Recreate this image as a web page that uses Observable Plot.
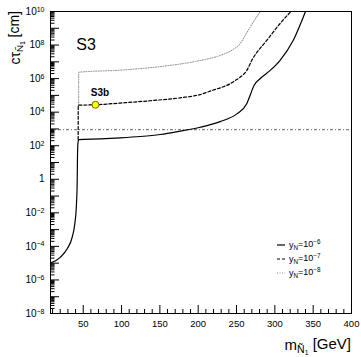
<!DOCTYPE html>
<html><head><meta charset="utf-8">
<script src="https://cdn.jsdelivr.net/npm/d3@7"></script>
<script src="https://cdn.jsdelivr.net/npm/@observablehq/plot@0.6"></script>
<style>
body{margin:0;background:#fff;}
#chart{position:relative;width:361px;height:357px;}
#chart svg{font-family:"Liberation Sans",Arial,Helvetica,sans-serif;}
</style></head><body><div id="chart"></div>
<script>
// ---- data ----
const xDomain = [7.3, 400];
const yDomain = [1e-8, 1e10];
const xMajorTicks = [50, 100, 150, 200, 250, 300, 350, 400];
const yLabelExps = [10, 8, 6, 4, 2, 0, -2, -4, -6, -8];

// y_N = 1e-6 (solid)
const solidMass = [7.3, 20.4, 29.1, 35.6, 39.0, 41.2, 42.1, 42.5, 43.2, 44.2, 72.5, 98.5, 124.5, 150.5, 176.5, 202.5, 228.6, 250.3, 263.3, 268.5, 272.8, 280.6, 293.6, 306.6, 323.9, 340];
const solidCtau = [1e-5, 2.3e-5, 7.2e-5, 3.5e-4, 2.2e-3, 3.5e-2, 0.54, 21, 160, 234, 257, 295, 355, 468, 741, 1.26e3, 2.75e3, 7.9e3, 3.2e4, 1.26e5, 3.9e5, 9.8e5, 3.0e6, 1.2e7, 1.86e8, 1e10];
// y_N = 1e-7 (dashed)
const dashedMass = [43.4, 43.5, 66, 98.5, 137.5, 176.5, 202.5, 219.9, 233, 241.6, 248, 254.6, 263.3, 269.8, 289.3, 306.6, 321];
const dashedCtau = [234, 2.6e4, 2.75e4, 3.5e4, 4.8e4, 7.2e4, 1.12e5, 2.1e5, 3.3e5, 4.9e5, 7.5e5, 1.2e6, 3.0e6, 1.2e7, 1.86e8, 1.86e9, 1e10];
// y_N = 1e-8 (dotted)
const dottedMass = [44, 44.1, 98.5, 150.5, 202.5, 228.6, 244, 254.6, 261, 267.6, 281];
const dottedCtau = [2.6e4, 2.4e6, 3.2e6, 5.2e6, 1.2e7, 2.4e7, 5.0e7, 1.2e8, 3.5e8, 1.15e9, 1e10];

const hLineCtau = 900;
const benchmarkLabel = ["S3b"];
const benchmarkMass = [66];
const benchmarkCtau = [2.75e4];
const panelLabel = ["S3"];
const panelMass = [41];
const panelCtau = [1e8];

const legendExps = ["-6", "-7", "-8"];
const legendDash = [null, "3,2", "1,1.5"];
const legendColor = ["#000", "#000", "#888"];

// ---- build ----
const zip = (xs, ys) => xs.map((m, i) => ({m, c: ys[i]}));
const solid = zip(solidMass, solidCtau);
const dashed = zip(dashedMass, dashedCtau);
const dotted = zip(dottedMass, dottedCtau);
const bench = benchmarkLabel.map((t, i) => ({t, m: benchmarkMass[i], c: benchmarkCtau[i]}));
const panel = panelLabel.map((t, i) => ({t, m: panelMass[i], c: panelCtau[i]}));

const yDecades = d3.range(-8, 11).map(e => Math.pow(10, e));
const yMinor = [];
for (let e = -8; e < 10; e++) for (let k = 2; k <= 9; k++) yMinor.push(k * Math.pow(10, e));
const yLabels = yLabelExps.map(e => Math.pow(10, e));
const xMinor = d3.range(10, 401, 10).filter(v => v % 50 !== 0);

const fmtY = v => { const e = Math.round(Math.log10(v)); return e === 0 ? "1" : "10^" + e; };

const svg = Plot.plot({
  width: 361, height: 357,
  marginTop: 11, marginLeft: 50, marginRight: 10, marginBottom: 44,
  style: {fontFamily: '"Liberation Sans",Arial,Helvetica,sans-serif', fontSize: "10px", background: "white", color: "black"},
  x: {domain: xDomain, label: null},
  y: {type: "log", domain: yDomain, label: null},
  marks: [
    Plot.ruleY([hLineCtau], {stroke: "#666", strokeWidth: 1, strokeDasharray: "3,2,1,2"}),
    Plot.line(dotted, {x: "m", y: "c", curve: "monotone-x", stroke: "#888", strokeWidth: 1, strokeDasharray: "1,1.5", clip: true}),
    Plot.line(dashed, {x: "m", y: "c", curve: "monotone-x", stroke: "#000", strokeWidth: 1.2, strokeDasharray: "3,2", clip: true}),
    Plot.line(solid, {x: "m", y: "c", curve: "monotone-x", stroke: "#000", strokeWidth: 1.2, clip: true}),
    Plot.dot(bench, {x: "m", y: "c", r: 3.5, fill: "#ffff00", stroke: "#6b6b00", strokeWidth: 1}),
    Plot.text(bench, {x: "m", y: "c", text: "t", dx: 4.5, dy: -12, fontSize: 10, fontWeight: "bold"}),
    Plot.text(panel, {x: "m", y: "c", text: "t", textAnchor: "start", fontSize: 16}),
    Plot.axisY(yMinor, {anchor: "left", tickSize: -4.5, fill: "none", label: null}),
    Plot.axisY(yDecades, {anchor: "left", tickSize: -9, fill: "none", label: null}),
    Plot.axisY(yLabels, {anchor: "left", tickSize: 0, tickPadding: 6, tickFormat: fmtY, fontSize: 10, label: null}),
    Plot.axisX(xMinor, {anchor: "bottom", tickSize: -4, fill: "none", label: null}),
    Plot.axisX(xMajorTicks, {anchor: "bottom", tickSize: -8, fill: "none", label: null}),
    Plot.axisX(xMajorTicks, {anchor: "bottom", tickSize: 0, tickPadding: 7, fontSize: 9.5, label: null}),
    Plot.frame({stroke: "black"})
  ]
});

const S = d3.select(svg);
// superscripts on y tick labels
S.selectAll('g[aria-label="y-axis tick label"] text').each(function () {
  const s = this.textContent;
  if (s.includes("^")) {
    const [b, e] = s.split("^");
    const t = d3.select(this);
    t.text(b);
    t.append("tspan").attr("dy", "-0.45em").attr("font-size", "0.7em").text(e.replace("-", "\u2212"));
  }
});

// axis titles
const xt = S.append("text").attr("x", 351).attr("y", 350).attr("text-anchor", "end").attr("font-size", 15).attr("fill", "black");
xt.append("tspan").text("m");
xt.append("tspan").attr("font-size", "0.7em").attr("dy", "0.3em").text("\u00d1");
xt.append("tspan").attr("font-size", "0.45em").attr("dy", "0.25em").text("1");
xt.append("tspan").attr("dy", "-0.4em").text(" [GeV]");

const yt = S.append("text").attr("transform", "translate(20,11) rotate(-90)").attr("text-anchor", "end").attr("font-size", 14).attr("fill", "black");
yt.append("tspan").text("c\u03c4");
yt.append("tspan").attr("font-size", "0.7em").attr("dy", "0.3em").text("\u00d1");
yt.append("tspan").attr("font-size", "0.45em").attr("dy", "0.25em").text("1");
yt.append("tspan").attr("dy", "-0.4em").text(" [cm]");

// legend
const lg = S.append("g").attr("font-size", 9).attr("fill", "black").attr("text-anchor", "start");
legendExps.forEach((e, i) => {
  const y = 245 + i * 14;
  const line = lg.append("line").attr("x1", 277).attr("x2", 285).attr("y1", y).attr("y2", y)
    .attr("stroke", legendColor[i]).attr("stroke-width", 1.2);
  if (legendDash[i]) line.attr("stroke-dasharray", legendDash[i]);
  const t = lg.append("text").attr("x", 289).attr("y", y + 3).attr("text-anchor", "start");
  t.append("tspan").text("y");
  t.append("tspan").attr("font-size", "0.7em").attr("dy", "0.3em").text("N");
  t.append("tspan").attr("dy", "-0.3em").text("=10");
  t.append("tspan").attr("font-size", "0.7em").attr("dy", "-0.45em").text(e.replace("-", "\u2212"));
});

document.getElementById("chart").appendChild(svg);
</script>
</body></html>
